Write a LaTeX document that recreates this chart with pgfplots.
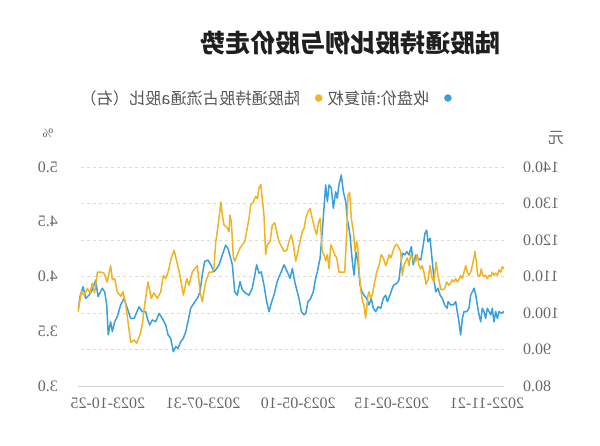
\documentclass[border=0pt]{standalone}
\usepackage{pgfplots}
\pgfplotsset{compat=1.18}
\usepackage{graphicx}
\usepackage{fontspec}
\setmainfont{Liberation Serif}
\newfontfamily\cjk{Noto Sans CJK SC}
\definecolor{cblue}{HTML}{3AA0DC}
\definecolor{cyellow}{HTML}{F0B323}
\definecolor{tickgray}{HTML}{666666}
\definecolor{leggray}{HTML}{555555}
\begin{document}
\begin{tikzpicture}
\useasboundingbox (0,0) rectangle (600pt,446pt);
% price axis (yuan)
\begin{axis}[
  at={(78pt,60pt)}, anchor=south west, scale only axis,
  width=426pt, height=219pt,
  xmin=0, xmax=250.6, x dir=reverse,
  ymin=80, ymax=140, ytick={80,90,100,110,120,130,140},
  axis y line*=right, axis x line*=bottom,
  y axis line style={draw=none},
  x axis line style={color=black!18, line width=0.8pt},
  ymajorgrids, grid style={dashed, black!14, line width=0.6pt},
  major tick length=0pt,
  xtick={10,66,121,177,233},
  xticklabels={\reflectbox{2022-11-21},\reflectbox{2023-02-15},\reflectbox{2023-05-10},\reflectbox{2023-07-31},\reflectbox{2023-10-25}},
  xticklabel style={font=\fontsize{16}{18}\selectfont, text=tickgray, anchor=north, inner sep=0pt, yshift=-12pt},
  /pgf/number format/assume math mode=true,
  yticklabel={\reflectbox{\pgfmathprintnumber[fixed,fixed zerofill,precision=1]{\tick}}},
  yticklabel style={font=\fontsize{16}{18}\selectfont, text=tickgray, anchor=west, inner sep=0pt, xshift=19pt},
]
\addplot[cblue, line width=1.5pt, line join=round] coordinates {
(250.6,100.4)(249.4,104.5)(247.6,107.2)(246.1,104.0)(244.1,104.9)(242.2,106.3)(240.2,109.0)(238.8,104.5)(236.3,106.8)(234.9,105.8)(233.7,102.2)(232.8,94.0)(231.4,97.6)(230.4,94.9)(229.0,97.6)(227.5,99.0)(225.5,102.2)(223.5,104.0)(221.6,101.3)(219.6,98.5)(217.6,98.5)(214.7,101.7)(212.8,100.4)(210.8,100.4)(209.8,98.5)(208.4,96.7)(206.9,98.1)(204.9,97.6)(202.9,99.9)(201.0,98.5)(199.0,96.7)(197.6,94.0)(196.1,93.1)(194.5,89.4)(193.1,90.8)(191.8,90.3)(190.2,92.1)(188.6,93.1)(187.2,94.9)(185.9,97.6)(184.3,101.3)(182.4,102.7)(180.4,104.0)(178.8,105.8)(177.5,110.4)(176.1,114.1)(174.1,114.5)(172.5,113.2)(170.6,111.3)(169.0,112.2)(167.6,113.2)(165.7,115.9)(163.7,118.6)(162.4,117.7)(160.8,115.0)(159.8,113.2)(158.4,105.8)(156.9,104.9)(155.3,108.6)(153.9,106.3)(151.9,105.4)(150.0,104.9)(148.1,106.8)(146.6,110.4)(145.5,113.2)(144.1,110.9)(142.8,111.3)(141.2,107.7)(139.6,103.1)(138.2,100.4)(136.9,102.7)(135.3,104.9)(133.7,108.1)(132.4,109.9)(131.0,111.3)(129.4,113.2)(127.5,111.3)(125.9,109.5)(124.5,112.2)(123.1,108.6)(121.6,105.8)(120.6,104.0)(119.2,100.4)(117.6,99.5)(116.6,99.9)(115.3,103.1)(113.7,104.0)(112.2,105.8)(110.8,109.5)(109.8,111.3)(108.2,115.0)(106.9,122.3)(105.9,128.7)(104.9,135.1)(103.9,130.5)(102.9,135.1)(101.6,134.2)(100.4,128.7)(99.0,133.2)(98.1,131.4)(97.1,135.1)(95.7,137.8)(94.5,133.2)(93.1,130.5)(92.2,125.9)(90.6,121.4)(89.2,114.0)(88.2,110.4)(87.1,116.7)(85.9,114.0)(84.7,107.7)(83.5,105.8)(82.4,104.9)(80.8,104.0)(79.4,102.2)(78.1,104.0)(76.9,101.3)(75.5,100.4)(74.1,101.7)(72.5,101.3)(71.0,104.0)(69.6,104.9)(68.6,103.1)(67.1,104.9)(65.7,106.8)(64.7,107.7)(63.1,108.1)(61.8,109.0)(60.8,113.2)(59.8,116.4)(58.4,115.9)(57.2,116.8)(55.9,115.9)(54.5,118.2)(53.4,113.2)(51.9,115.9)(50.6,115.0)(49.0,114.5)(47.5,118.6)(46.5,121.8)(45.5,122.7)(44.7,119.5)(43.5,120.5)(42.2,114.1)(41.2,109.5)(40.2,105.8)(38.8,106.8)(37.6,104.9)(36.3,104.0)(34.9,102.2)(33.4,101.3)(32.9,103.1)(31.4,102.2)(29.8,102.2)(28.4,103.1)(27.5,100.4)(26.5,97.6)(25.5,94.0)(24.5,98.5)(23.5,100.4)(21.9,100.4)(20.6,101.3)(19.6,104.9)(18.6,105.8)(17.6,106.8)(16.6,104.9)(15.7,102.2)(14.7,99.5)(13.7,97.6)(12.8,101.3)(11.8,100.4)(10.8,98.5)(9.8,101.3)(8.8,100.4)(7.8,99.5)(6.9,101.3)(5.9,97.6)(4.9,100.4)(3.9,98.5)(2.9,100.4)(1.6,99.9)(0,100.4)
};
\end{axis}
% share axis (percent)
\begin{axis}[
  at={(78pt,60pt)}, anchor=south west, scale only axis,
  width=426pt, height=219pt,
  xmin=0, xmax=250.6, x dir=reverse,
  ymin=3, ymax=5, ytick={3,3.5,4,4.5,5},
  axis y line*=left, axis x line=none,
  y axis line style={draw=none},
  major tick length=0pt,
  /pgf/number format/assume math mode=true,
  yticklabel={\reflectbox{\pgfmathprintnumber[fixed,fixed zerofill,precision=1]{\tick}}},
  yticklabel style={font=\fontsize{16}{18}\selectfont, text=tickgray, anchor=east, inner sep=0pt, xshift=-20pt},
  legend plot pos=right,
  legend columns=2,
  legend style={at={(0.44,1.315)}, anchor=center, draw=none, fill=none,
    font=\cjk\fontsize{16.2}{19}\selectfont, text=leggray,
    nodes={inner xsep=1pt},
    /tikz/every even column/.append style={column sep=4.5pt},
    /tikz/every odd column/.append style={column sep=14pt}},
  legend image code/.code={\draw[#1] plot coordinates {(0pt,0pt)};},
]
\addlegendimage{only marks, mark=*, mark size=3.5pt, color=cyellow}
\addlegendentry{\reflectbox{陆股通持股占流通a股比（右）}}
\addlegendimage{only marks, mark=*, mark size=3.5pt, color=cblue}
\addlegendentry{\reflectbox{收盘价:前复权}}
\addplot[cyellow, line width=1.5pt, line join=round, forget plot] coordinates {
(250.6,3.68)(248.6,3.86)(247.1,3.83)(245.1,3.89)(243.5,3.85)(242.2,3.94)(240.8,3.85)(239.2,4.04)(237.2,4.04)(235.3,4.03)(233.4,3.95)(231.4,4.10)(230.4,3.97)(229.0,3.98)(227.5,3.86)(225.5,3.82)(224.1,3.86)(222.5,3.74)(221.2,3.59)(219.6,3.40)(217.6,3.42)(216.1,3.39)(214.1,3.47)(212.8,3.56)(211.4,3.74)(209.4,3.95)(207.5,3.80)(205.9,3.85)(203.9,3.80)(201.9,3.86)(200.4,4.01)(199.0,3.98)(197.6,4.04)(195.7,4.17)(194.1,4.24)(192.5,4.14)(190.6,4.01)(188.6,3.83)(186.6,3.98)(185.3,3.92)(183.4,4.04)(182.0,4.07)(180.4,4.10)(178.8,3.86)(177.5,3.77)(175.5,3.95)(173.5,4.04)(171.6,4.04)(170.6,4.08)(169.6,4.31)(168.6,4.42)(167.6,4.54)(166.6,4.68)(165.7,4.56)(164.7,4.47)(163.1,4.45)(161.8,4.41)(161.2,4.56)(160.4,4.50)(159.2,4.17)(158.4,4.14)(156.9,4.20)(155.3,4.26)(153.9,4.29)(152.5,4.32)(151.4,4.41)(150.0,4.53)(149.0,4.65)(147.5,4.68)(146.1,4.73)(145.1,4.71)(144.1,4.81)(143.1,4.84)(142.2,4.71)(141.2,4.56)(140.2,4.20)(139.2,4.29)(137.6,4.32)(136.3,4.47)(134.9,4.49)(133.7,4.41)(132.4,4.32)(131.4,4.29)(130.4,4.26)(129.4,4.23)(127.8,4.24)(126.5,4.32)(125.1,4.38)(123.9,4.29)(122.5,4.14)(121.6,4.20)(120.0,4.32)(118.6,4.41)(117.6,4.44)(116.6,4.53)(115.3,4.59)(114.1,4.62)(112.8,4.53)(111.4,4.44)(110.2,4.38)(109.2,4.49)(108.2,4.53)(107.5,4.38)(106.9,4.23)(105.9,4.20)(104.9,4.14)(103.9,4.20)(102.9,4.07)(101.9,4.29)(101.0,4.26)(99.6,4.20)(98.4,4.17)(97.1,4.04)(95.7,4.04)(94.5,4.04)(93.7,4.04)(92.5,4.41)(91.8,4.74)(90.8,4.77)(89.8,4.53)(88.6,4.41)(87.6,4.23)(86.6,4.32)(85.9,4.23)(85.0,4.01)(84.1,3.86)(83.2,3.77)(82.4,3.74)(81.4,3.62)(80.8,3.71)(80.0,3.83)(79.4,3.86)(78.4,3.80)(77.5,3.83)(76.1,3.95)(74.9,4.04)(73.5,4.10)(72.2,4.20)(71.0,4.17)(69.6,4.10)(68.6,4.14)(67.6,4.20)(66.6,4.17)(65.7,4.21)(64.7,4.26)(63.7,4.29)(62.8,4.29)(61.8,4.26)(60.8,4.23)(59.8,4.01)(58.8,4.10)(57.8,4.14)(56.9,4.17)(55.9,4.10)(54.9,4.20)(53.9,4.17)(52.9,4.14)(51.9,4.14)(51.0,4.20)(50.0,4.10)(49.0,4.07)(48.1,4.10)(47.1,4.04)(45.9,3.93)(44.7,3.97)(43.5,4.10)(42.4,3.99)(41.2,3.95)(40.0,4.13)(38.8,4.01)(37.2,3.88)(36.3,3.88)(34.9,3.89)(33.7,3.95)(32.4,3.92)(31.4,3.94)(30.4,3.97)(29.4,3.95)(28.4,3.98)(27.5,3.95)(26.5,3.97)(25.5,4.01)(24.5,3.98)(23.5,4.04)(22.5,4.10)(21.6,4.04)(20.6,4.01)(19.6,4.04)(18.6,4.10)(17.6,4.18)(17.1,4.23)(16.3,4.14)(15.7,4.04)(15.1,4.00)(14.1,4.01)(13.4,4.07)(12.5,4.01)(11.8,4.00)(10.8,4.01)(9.8,3.98)(8.8,4.01)(7.8,4.00)(6.9,4.04)(5.9,4.01)(4.9,4.03)(3.9,4.01)(2.9,4.06)(1.9,4.04)(1.0,4.09)(0,4.07)
};
\end{axis}
\node[font=\cjk\bfseries\fontsize{25}{28}\selectfont, text=black!88] at (350pt,403pt) {\reflectbox{陆股通持股比例与股价走势}};
\node[font=\cjk\fontsize{16}{18}\selectfont, text=tickgray] at (556pt,308pt) {\reflectbox{元}};
\node[font=\fontsize{13}{15}\selectfont, text=tickgray] at (48pt,313pt) {\reflectbox{\%}};
\end{tikzpicture}
\end{document}
